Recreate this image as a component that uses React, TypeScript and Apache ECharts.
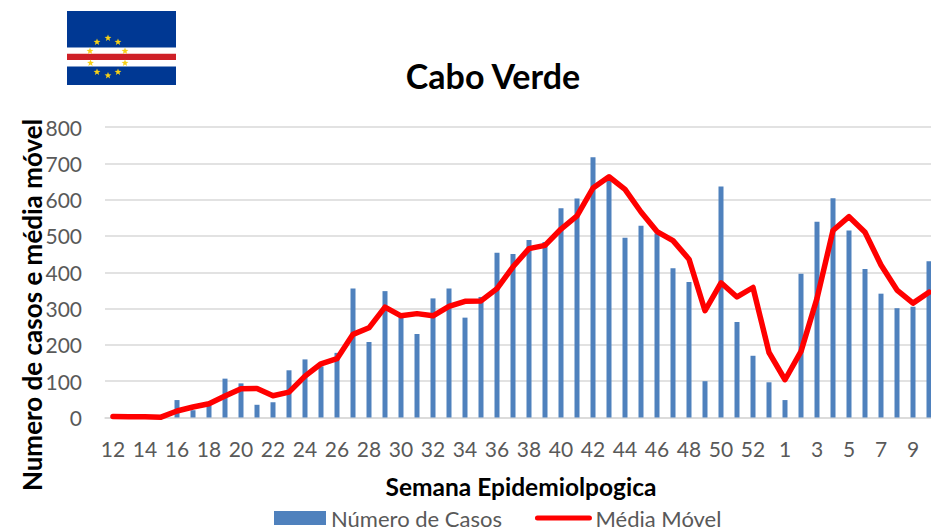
import React, { useEffect, useRef } from "react";
import * as echarts from "echarts";

const FONT = "Lato";
const weeks = [
  "12","13","14","15","16","17","18","19","20","21","22","23","24","25","26","27","28","29","30","31","32",
  "33","34","35","36","37","38","39","40","41","42","43","44","45","46","47","48","49","50","51","52","53",
  "1","2","3","4","5","6","7","8","9","10",
];
const cases = [
  2,1,1,0,48,20,34,107,94,35,42,130,160,141,178,355,208,348,282,230,328,
  355,275,332,454,450,489,483,576,603,717,665,495,528,507,411,373,100,636,263,170,97,
  48,396,539,604,515,409,341,301,305,430,
];
const movingAverage = [
  3,2,2,1,18,29,38,59,79,80,60,70,114,148,162,229,247,304,280,286,280,
  306,320,321,355,415,465,474,519,555,632,663,628,566,512,487,436,294,371,332,358,179,
  104,182,328,515,553,510,420,351,315,345,
];
const yTicks = { min: 0, max: 800, interval: 100 };
const starCenters = [
  [97, 42], [108, 38], [118, 42], [90, 51], [125, 51],
  [90.5, 63], [125, 63], [97, 72], [108, 75.5], [118, 72],
];

function starPoints(cx: number, cy: number, r: number) {
  const pts: number[][] = [];
  for (let i = 0; i < 10; i++) {
    const rad = i % 2 === 0 ? r : r * 0.42;
    const a = -Math.PI / 2 + (i * Math.PI) / 5;
    pts.push([cx + rad * Math.cos(a), cy + rad * Math.sin(a)]);
  }
  return pts;
}

export default function App() {
  const ref = useRef<HTMLDivElement>(null);
  useEffect(() => {
    const chart = echarts.init(ref.current!, null, { renderer: "svg" });
    const flag: any[] = [
      { type: "rect", shape: { x: 67, y: 11, width: 109, height: 74 }, style: { fill: "#003893" } },
      { type: "rect", shape: { x: 67, y: 47.5, width: 109, height: 19 }, style: { fill: "#FFFFFF" } },
      { type: "rect", shape: { x: 67, y: 53.7, width: 109, height: 6.3 }, style: { fill: "#CF2027" } },
      ...starCenters.map(([cx, cy]) => ({
        type: "polygon",
        shape: { points: starPoints(cx, cy, 3.6) },
        style: { fill: "#F7D116" },
      })),
    ];
    chart.setOption({
      animation: false,
      backgroundColor: "#FFFFFF",
      textStyle: { fontFamily: FONT },
      title: {
        text: "Cabo Verde",
        left: 493,
        top: 58,
        padding: 0,
        textAlign: "center",
        textStyle: { fontFamily: FONT, fontWeight: "bold", fontSize: 34, color: "#000000" },
      },
      grid: { left: 105, top: 127, width: 832, height: 290.5, containLabel: false },
      legend: {
        left: 274,
        top: 507,
        padding: 0,
        itemWidth: 52,
        itemHeight: 14,
        itemGap: 33,
        data: [
          { name: "Número de Casos", icon: "rect" },
          {
            name: "Média Móvel",
            itemStyle: { opacity: 0 },
            lineStyle: { color: "#FF0000", width: 5, cap: "round" },
            textStyle: { padding: [0, 0, 0, 1] },
          },
        ],
        textStyle: { fontFamily: FONT, fontSize: 22, lineHeight: 20, color: "#595959" },
      },
      xAxis: {
        type: "category",
        data: weeks,
        boundaryGap: true,
        axisTick: { show: false },
        axisLine: { lineStyle: { color: "#D9D9D9", width: 1.5 } },
        axisLabel: { interval: 1, fontFamily: FONT, fontSize: 21, color: "#595959", margin: 20 },
        name: "Semana Epidemiolpogica",
        nameLocation: "middle",
        nameGap: 56,
        nameTextStyle: { fontFamily: FONT, fontWeight: "bold", fontSize: 24.5, color: "#000000" },
      },
      yAxis: {
        type: "value",
        ...yTicks,
        axisLine: { show: false },
        axisTick: { show: false },
        splitLine: { lineStyle: { color: "#D9D9D9", width: 1.5 } },
        axisLabel: { fontFamily: FONT, fontSize: 21, color: "#595959", margin: 23 },
      },
      series: [
        {
          name: "Número de Casos",
          type: "bar",
          data: cases,
          barWidth: 5,
          itemStyle: { color: "#4F81BD" },
        },
        {
          name: "Média Móvel",
          type: "line",
          data: movingAverage,
          symbol: "none",
          smooth: false,
          lineStyle: { color: "#FF0000", width: 5.5, cap: "round", join: "round" },
          itemStyle: { color: "#FF0000" },
        },
      ],
      graphic: [
        ...flag,
        {
          type: "text",
          x: 32,
          y: 305,
          rotation: Math.PI / 2,
          style: {
            text: "Numero de casos e média móvel",
            fontFamily: FONT,
            fontWeight: "bold",
            fontSize: 26,
            fill: "#000000",
            align: "center",
            verticalAlign: "middle",
          },
        },
      ],
    });
    return () => chart.dispose();
  }, []);
  return (
    <div style={{ position: "fixed", left: 0, top: 0, width: 931, height: 530, overflow: "hidden" }}>
      <div ref={ref} style={{ width: 937, height: 530 }} />
    </div>
  );
}
